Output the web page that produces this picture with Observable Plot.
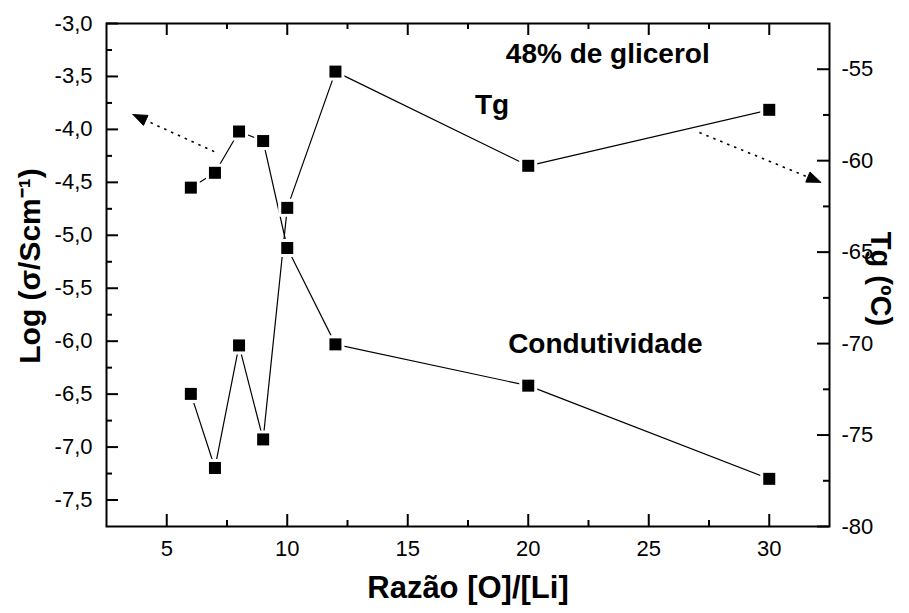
<!DOCTYPE html>
<html><head><meta charset="utf-8">
<script src="https://cdn.jsdelivr.net/npm/d3@7"></script>
<script src="https://cdn.jsdelivr.net/npm/@observablehq/plot@0.6"></script>
<style>body{margin:0;background:#fff} svg{display:block}</style>
</head><body><div id="chart"></div>
<script>
// ---- data ----
const ratio   = [6, 7, 8, 9, 10, 12, 20, 30];
const logCond = [-4.55, -4.41, -4.02, -4.11, -5.12, -6.03, -6.42, -7.30];
const tgC     = [-72.75, -76.8, -70.1, -75.24, -62.58, -55.13, -60.28, -57.22];

const xDomain = [2.5, 32.5];
const leftDomain = [-7.75, -3.0];
const rightDomain = [-80, -52.5];

const xTicks = [5, 10, 15, 20, 25, 30];
const xMinor = [7.5, 12.5, 17.5, 22.5, 27.5];
const leftTicks = [-3.0, -3.5, -4.0, -4.5, -5.0, -5.5, -6.0, -6.5, -7.0, -7.5];
const leftMinor = [-3.25, -3.75, -4.25, -4.75, -5.25, -5.75, -6.25, -6.75, -7.25];
const rightTicks = [-55, -60, -65, -70, -75, -80];
const rightMinor = [-57.5, -62.5, -67.5, -72.5, -77.5];

const labelTexts = ["48% de glicerol", "Tg", "Condutividade"];
const labelX = [23.3, 18.5, 23.2];
const labelY = [-3.29, -3.77, -6.03];

const arrowX1 = [6.97, 27.1];
const arrowY1 = [-4.21, -4.03];
const arrowX2 = [3.6, 32.14];
const arrowY2 = [-3.86, -4.50];

const xTitle = "Razão [O]/[Li]";
const yTitle = "Log (σ/Scm⁻¹)";
const y2Title = "Tg (ºC)";

// ---- layout ----
const W = 909, H = 613, ML = 106, MR = 80, MT = 23, MB = 87;
const IW = W - ML - MR, IH = H - MT - MB;

// ---- derived tables ----
const toLeft = d3.scaleLinear().domain(rightDomain).range(leftDomain);
const condRows = ratio.map((r, i) => ({r, v: logCond[i]}));
const tgRows = ratio.map((r, i) => ({r, v: toLeft(tgC[i])}));
const labelRows = labelTexts.map((t, i) => ({t, x: labelX[i], y: labelY[i]}));
const arrowRows = arrowX1.map((x, i) => ({x1: x, y1: arrowY1[i], x2: arrowX2[i], y2: arrowY2[i]}));
const fmtL = d => d.toFixed(1).replace(".", ",");
const FONT = "'Liberation Sans', Arial, Helvetica, sans-serif";
const TS = 22;
const MAJ = 12, MIN = 6;

function inwardTicks(values, anchor, size) {
  const o = {stroke: "black", strokeWidth: 2};
  if (anchor === "left")   return Plot.tickY(values, {y: d => d, insetRight: IW - size, ...o});
  if (anchor === "right")  return Plot.tickY(values, {y: d => d, insetLeft: IW - size, ...o});
  if (anchor === "bottom") return Plot.tickX(values, {x: d => d, insetTop: IH - size, ...o});
  return Plot.tickX(values, {x: d => d, insetBottom: IH - size, ...o});
}

// arrowhead triangles (filled polygons) derived from the arrow rows
const px = d3.scaleLinear(xDomain, [ML, W - MR]);
const py = d3.scaleLinear(leftDomain, [H - MB, MT]);
const HEAD_L = 14, HEAD_W = 5.5;
const headRows = [];
arrowRows.forEach((a, k) => {
  const tx = px(a.x2), ty = py(a.y2);
  const dxp = tx - px(a.x1), dyp = ty - py(a.y1);
  const L = Math.hypot(dxp, dyp);
  const ux = dxp / L, uy = dyp / L, nx = -uy, ny = ux;
  const bx = tx - HEAD_L * ux, by = ty - HEAD_L * uy;
  [[tx, ty], [bx + HEAD_W * nx, by + HEAD_W * ny], [bx - HEAD_W * nx, by - HEAD_W * ny], [tx, ty]]
    .forEach(([X, Y]) => headRows.push({id: k, x: px.invert(X), y: py.invert(Y)}));
});

const svg = Plot.plot({
  width: W, height: H,
  marginLeft: ML, marginRight: MR, marginTop: MT, marginBottom: MB,
  x: {domain: xDomain},
  y: {domain: leftDomain},
  style: {fontFamily: FONT, fontSize: TS + "px", color: "black", background: "white"},
  marks: [
    Plot.frame({stroke: "black", fill: "none", strokeWidth: 2}),
    inwardTicks(leftTicks, "left", MAJ),
    inwardTicks(leftMinor, "left", MIN),
    inwardTicks(rightTicks.map(toLeft), "right", MAJ),
    inwardTicks(rightMinor.map(toLeft), "right", MIN),
    inwardTicks(xTicks, "bottom", MAJ),
    inwardTicks(xMinor, "bottom", MIN),
    inwardTicks(xTicks, "top", MAJ),
    inwardTicks(xMinor, "top", MIN),
    Plot.axisY(leftTicks, {anchor: "left", tickSize: 0, tickPadding: 14, tickFormat: fmtL, fontSize: TS, label: null}),
    Plot.axisY(rightTicks.map(toLeft), {anchor: "right", tickSize: 0, tickPadding: 12,
      tickFormat: d => String(Math.round(toLeft.invert(d))), fontSize: TS, label: null}),
    Plot.axisX(xTicks, {anchor: "bottom", tickSize: 0, tickPadding: 14, fontSize: TS, label: null}),
    Plot.line(condRows, {x: "r", y: "v", stroke: "black", strokeWidth: 1.2}),
    Plot.line(tgRows, {x: "r", y: "v", stroke: "black", strokeWidth: 1.2}),
    Plot.dot(condRows, {x: "r", y: "v", symbol: "square", r: 12 / Math.sqrt(Math.PI), fill: "black",
      stroke: "white", strokeWidth: 6, paintOrder: "stroke"}),
    Plot.dot(tgRows, {x: "r", y: "v", symbol: "square", r: 12 / Math.sqrt(Math.PI), fill: "black",
      stroke: "white", strokeWidth: 6, paintOrder: "stroke"}),
    Plot.text(labelRows, {x: "x", y: "y", text: "t", fontWeight: "bold", fontSize: 28, fill: "black"}),
    Plot.link(arrowRows, {x1: "x1", y1: "y1", x2: "x2", y2: "y2", stroke: "black",
      strokeWidth: 1.6, strokeDasharray: "2.5,5"}),
    Plot.line(headRows, {x: "x", y: "y", z: "id", fill: "black", stroke: "black", strokeWidth: 1}),
    Plot.text([xTitle], {frameAnchor: "bottom", textAnchor: "middle", dy: 71, fontWeight: "bold", fontSize: 31, fill: "black"}),
    Plot.text([yTitle], {frameAnchor: "left", textAnchor: "middle", dx: -76, dy: -9, rotate: -90, fontWeight: "bold", fontSize: 30, fill: "black"}),
    Plot.text([y2Title], {frameAnchor: "right", textAnchor: "middle", dx: 51, dy: 4, rotate: 90, fontWeight: "bold", fontSize: 29, fill: "black"})
  ]
});
document.getElementById("chart").appendChild(svg);
</script>
</body></html>
